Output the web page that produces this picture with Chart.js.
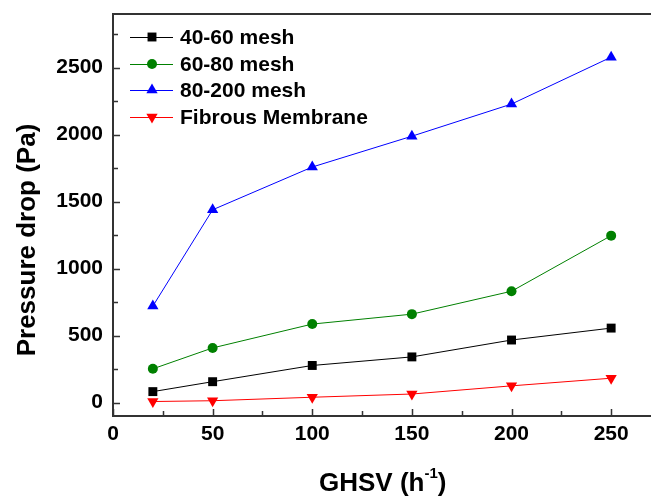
<!DOCTYPE html>
<html>
<head>
<meta charset="utf-8">
<script src="https://cdn.jsdelivr.net/npm/chart.js@4.4.0/dist/chart.umd.min.js"></script>
<style>
  html, body { margin: 0; padding: 0; background: #fff; }
  #wrap { width: 651px; height: 497px; }
</style>
</head>
<body>
<div id="wrap"><canvas id="c" width="651" height="497"></canvas></div>
<script>
// GHSV (h-1) and pressure drop (Pa)
const ghsv = [20, 50, 100, 150, 200, 250];
const mesh4060 = [82, 156, 277, 341, 467, 556];
const mesh6080 = [252, 408, 586, 660, 831, 1246];
const mesh80200 = [720, 1439, 1758, 1988, 2228, 2578];
const fibrous = [8, 14, 40, 64, 125, 182];

const xTicks = [0, 50, 100, 150, 200, 250];
const xMinor = [25, 75, 125, 175, 225];
const yTicks = [0, 500, 1000, 1500, 2000, 2500];
const yMinor = [250, 750, 1250, 1750, 2250, 2750];

const FONT = '"Liberation Sans", Arial, sans-serif';
const AXIS = '#333';

function series(label, values, color, style, radius, rotation) {
    return {
        label,
        data: ghsv.map((x, i) => ({ x, y: values[i] })),
        borderColor: color,
        backgroundColor: color,
        borderWidth: 1,
        pointStyle: style,
        pointRadius: radius,
        pointRotation: rotation || 0,
        pointBorderWidth: 0,
        tension: 0,
    };
}

// inward ticks, top border, legend and axis titles
const decor = {
    id: 'decor',
    afterDraw(chart) {
        const ctx = chart.ctx;
        const a = chart.chartArea;
        const xs = chart.scales.x, ys = chart.scales.y;
        ctx.save();
        ctx.strokeStyle = AXIS;
        ctx.lineWidth = 2;
        ctx.beginPath();
        ctx.moveTo(a.left - 1, a.top);
        ctx.lineTo(a.right, a.top);
        ctx.stroke();

        ctx.lineWidth = 1.5;
        ctx.beginPath();
        xTicks.concat(xMinor).forEach(v => {
            const px = Math.round(xs.getPixelForValue(v)) + 0.5;
            const len = xTicks.includes(v) ? 7 : 5;
            ctx.moveTo(px, a.bottom);
            ctx.lineTo(px, a.bottom - len);
        });
        yTicks.concat(yMinor).forEach(v => {
            const py = Math.round(ys.getPixelForValue(v)) + 0.5;
            const len = yTicks.includes(v) ? 7 : 5;
            ctx.moveTo(a.left, py);
            ctx.lineTo(a.left + len, py);
        });
        ctx.stroke();

        // legend
        const lx = 130, ly = 37, rowH = 26.7;
        chart.data.datasets.forEach((ds, i) => {
            const y = Math.round(ly + i * rowH);
            ctx.strokeStyle = ds.borderColor;
            ctx.lineWidth = 1;
            ctx.beginPath();
            ctx.moveTo(lx, y + 0.5);
            ctx.lineTo(lx + 43, y + 0.5);
            ctx.stroke();
            ctx.fillStyle = ds.backgroundColor;
            Chart.helpers.drawPoint(ctx, {
                pointStyle: ds.pointStyle,
                radius: ds.pointRadius,
                rotation: ds.pointRotation,
                borderWidth: 0,
            }, lx + 22, y);
            ctx.fillStyle = '#000';
            ctx.font = 'bold 21px ' + FONT;
            ctx.textAlign = 'left';
            ctx.textBaseline = 'middle';
            ctx.fillText(ds.label, 180, y + 1);
        });

        // x title with superscript
        ctx.fillStyle = '#000';
        ctx.textBaseline = 'alphabetic';
        ctx.font = 'bold 26px ' + FONT;
        const t1 = 'GHSV (h', t2 = '-1', t3 = ')';
        const w1 = ctx.measureText(t1).width;
        ctx.font = 'bold 15px ' + FONT;
        const w2 = ctx.measureText(t2).width;
        ctx.font = 'bold 26px ' + FONT;
        let tx = 319;
        const ty = 491;
        ctx.textAlign = 'left';
        ctx.fillText(t1, tx, ty);
        tx += w1;
        ctx.font = 'bold 15px ' + FONT;
        ctx.fillText(t2, tx, ty - 13);
        tx += w2;
        ctx.font = 'bold 26px ' + FONT;
        ctx.fillText(t3, tx, ty);

        // y title
        ctx.translate(28, 240);
        ctx.rotate(-Math.PI / 2);
        ctx.textAlign = 'center';
        ctx.textBaseline = 'middle';
        ctx.fillText('Pressure drop (Pa)', 0, 0);
        ctx.restore();
    }
};

new Chart(document.getElementById('c'), {
    type: 'line',
    data: {
        datasets: [
            series('40-60 mesh', mesh4060, '#000000', 'rect', 6.3),
            series('60-80 mesh', mesh6080, '#008000', 'circle', 5),
            series('80-200 mesh', mesh80200, '#0000FF', 'triangle', 6.5),
            series('Fibrous Membrane', fibrous, '#FF0000', 'triangle', 6.5, 180),
        ]
    },
    options: {
        responsive: false,
        animation: false,
        layout: { autoPadding: false, padding: { top: 14, right: 0, left: 0, bottom: 0 } },
        plugins: { legend: { display: false }, tooltip: { enabled: false } },
        scales: {
            x: {
                type: 'linear',
                min: 0,
                max: 270,
                afterBuildTicks: s => { s.ticks = xTicks.map(v => ({ value: v })); },
                afterFit: s => { s.height = 81; s.paddingLeft = 0; s.paddingRight = 0; },
                grid: { display: false, drawTicks: false },
                border: { color: AXIS, width: 2 },
                ticks: { color: '#000', padding: 6, callback: v => String(v), font: { family: FONT, size: 21, weight: 'bold' } },
            },
            y: {
                type: 'linear',
                min: -100,
                max: 2900,
                afterBuildTicks: s => { s.ticks = yTicks.map(v => ({ value: v })); },
                afterFit: s => { s.width = 113; s.paddingTop = 0; s.paddingBottom = 0; },
                grid: { display: false, drawTicks: false },
                border: { color: AXIS, width: 2 },
                ticks: { color: '#000', padding: 10, callback: v => String(v), font: { family: FONT, size: 21, weight: 'bold' } },
            }
        }
    },
    plugins: [decor]
});
</script>
</body>
</html>
